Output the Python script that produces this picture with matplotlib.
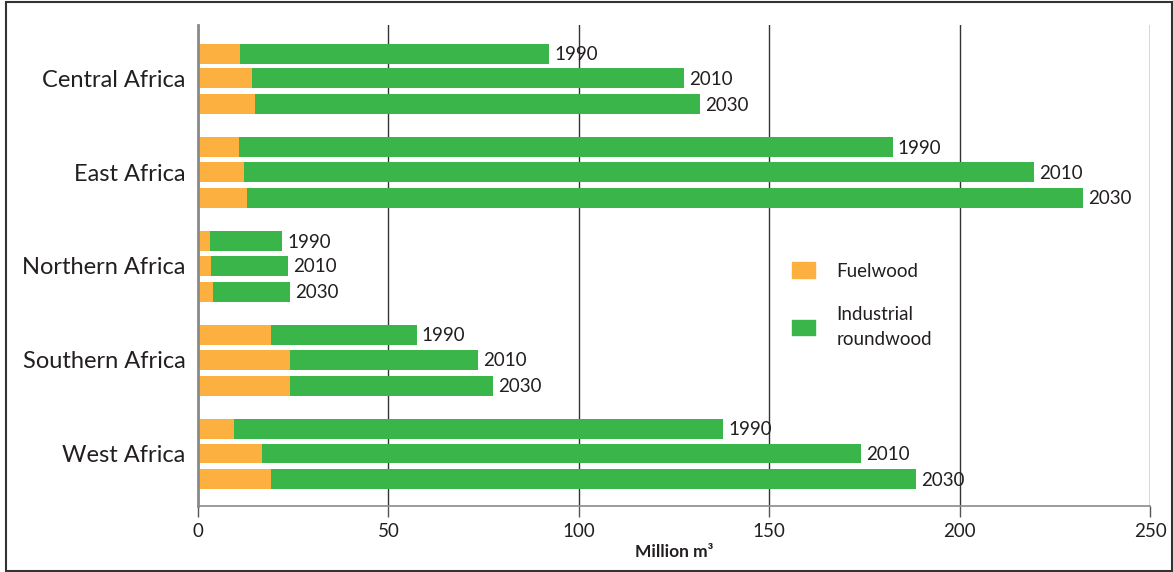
import numpy as np
import matplotlib.pyplot as plt
from matplotlib.patches import Rectangle, Patch

plt.rcParams['font.family'] = ['Lato', 'DejaVu Sans']

regions = ['Central Africa', 'East Africa', 'Northern Africa', 'Southern Africa', 'West Africa']
years = ['1990', '2010', '2030']

# million m3, rows = regions, cols = years
fuelwood = np.array([
    [11.0, 14.2, 15.0],
    [10.8, 12.1, 12.9],
    [3.2, 3.4, 3.9],
    [19.2, 24.2, 24.2],
    [9.5, 16.8, 19.2],
])
total = np.array([
    [92.2, 127.6, 131.8],
    [182.5, 219.5, 232.4],
    [22.1, 23.6, 24.2],
    [57.5, 73.5, 77.5],
    [137.9, 174.1, 188.5],
])
industrial = total - fuelwood

c_fuel = '#FBB040'
c_ind = '#3AB54A'
txt = '#231F20'

fig = plt.figure(figsize=(11.73, 5.72), dpi=100)
ax = fig.add_axes([198 / 1173, 66 / 572, 952 / 1173, 481 / 572])

offsets = [-0.265, 0.0, 0.275]
h = 0.213
for i in range(len(regions)):
    for j in range(len(years)):
        y = i + offsets[j]
        ax.barh(y, fuelwood[i, j], height=h, color=c_fuel, zorder=3)
        ax.barh(y, industrial[i, j], left=fuelwood[i, j], height=h, color=c_ind, zorder=3)
        ax.text(total[i, j] + 1.3, y + 0.01, years[j], va='center', ha='left',
                fontsize=13.5, color=txt, zorder=4)

ax.set_ylim(len(regions) - 1 + 0.56, -0.57)
ax.set_yticks(range(len(regions)))
ax.set_yticklabels(regions, fontsize=17, color=txt)
ax.tick_params(axis='y', length=0, pad=9)

ax.set_xlim(0, 250)
ax.set_xticks([0, 50, 100, 150, 200, 250])
ax.tick_params(axis='x', length=8, width=1, color='#555555', labelsize=13.5,
               labelcolor=txt, pad=4)
ax.set_xlabel('Million m³', fontsize=12.5, fontweight='bold', color=txt, labelpad=3)

ax.grid(axis='x', color='#333333', linewidth=1, zorder=1)
for s in ['top', 'right']:
    ax.spines[s].set_visible(False)
ax.spines['left'].set_color('#8a8a8a')
ax.spines['left'].set_linewidth(2)
ax.spines['left'].set_zorder(5)
ax.spines['bottom'].set_color('#8a8a8a')
ax.spines['bottom'].set_linewidth(1.2)

handles = [Patch(color=c_fuel), Patch(color=c_ind)]
leg = ax.legend(handles, ['Fuelwood', 'Industrial\nroundwood'], frameon=False,
                loc='upper left', bbox_to_anchor=(783 / 1173, 1 - 253 / 572),
                bbox_transform=fig.transFigure, fontsize=13.5, labelcolor=txt,
                handlelength=1.2, handleheight=0.88, handletextpad=1.15,
                labelspacing=1.43, borderpad=0)
for t in leg.get_texts():
    t.set_linespacing(1.55)

fig.patches.append(Rectangle((6 / 1173, 1 / 572), 1166 / 1173, 569 / 572,
                             transform=fig.transFigure, fill=False,
                             edgecolor='#333333', linewidth=1.5))

fig.savefig('out.png', dpi=100)
